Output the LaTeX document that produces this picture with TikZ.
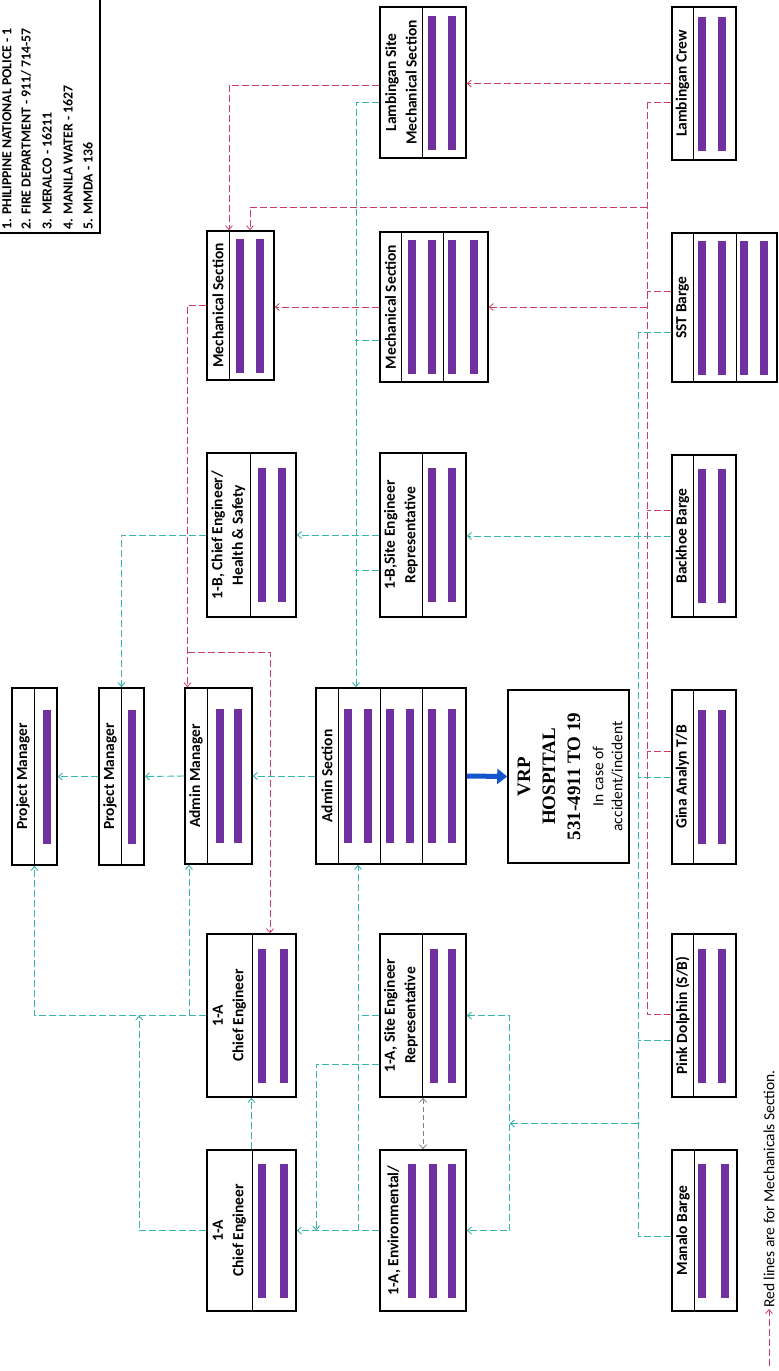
\documentclass[tikz,border=0pt]{standalone}
\usepackage{fontspec}
\setmainfont{Carlito}
\newfontfamily\hospserif{Liberation Serif}
\usepackage{tikz}
\usetikzlibrary{calc,arrows.meta}
\definecolor{redactpurple}{RGB}{112, 48, 160}
\definecolor{mechred}{RGB}{205, 60, 95}
\definecolor{siteteal}{RGB}{55, 180, 172}
\definecolor{hospblue}{RGB}{20, 85, 205}

\newcommand{\titlefont}{\bfseries\fontsize{15.5}{20.5}\selectfont}
% box: name, x1, y1, x2, y2, dividers, bars, title x, title
\newcommand{\staffbox}[9]{%
  \node[unitbox, minimum width={(#4-#2)*1pt}, minimum height={(#5-#3)*1pt}] (#1) at ({(#2+#4)/2},{(#3+#5)/2}) {};
  \foreach \dx in {#6} {\draw[divider] (\dx,#3) -- (\dx,#5);}
  \foreach \bx in {#7} {\fill[redact] ({\bx-4},{(#3+#5)/2-67}) rectangle ({\bx+4},{(#3+#5)/2+67});}
  \node[boxtitle] (#1-title) at (#8,{(#3+#5)/2}) {#9};
}

\begin{document}
\begin{tikzpicture}[x=1pt, y=-1pt, >={Straight Barb[length=4pt,width=7pt]},
    unitbox/.style={draw, line width=1.6pt, fill=white, inner sep=0pt},
    divider/.style={line width=0.8pt},
    redact/.style={fill=redactpurple},
    boxtitle/.style={rotate=90, align=center, inner sep=0pt, font=\titlefont},
    mechline/.style={draw=mechred, dash pattern=on 7pt off 3pt, line width=0.8pt},
    siteline/.style={draw=siteteal, dash pattern=on 7pt off 3pt, line width=0.9pt},
    pairline/.style={draw=gray, dash pattern=on 5pt off 3pt, line width=0.8pt},
    hosparrow/.style={draw=hospblue, line width=5pt, -{Triangle[length=10pt,width=15pt]}}]
    \fill[white] (0,0) rectangle (779,1371);
    \useasboundingbox (0,0) rectangle (779,1371);

    % Hotline list
    \draw[line width=1.6pt] (-10,-10) rectangle (100,233);
    \begin{scope}[every node/.style={rotate=90, anchor=west, inner sep=0pt, font=\bfseries\fontsize{13.8}{21}\selectfont}]
        \node (hot1) at (7,230) {1. PHILIPPINE NATIONAL POLICE - 1};
        \node (hot2) at (26,230) {2. FIRE DEPARTMENT - 911/ 714-57};
        \node (hot3) at (47,230) {3. MERALCO - 16211};
        \node (hot4) at (68,230) {4. MANILA WATER - 1627};
        \node (hot5) at (88,230) {5. MMDA - 136};
    \end{scope}

    % Boxes
    \staffbox{ms1}{207}{231}{274}{380}{229}{240,260}{218}{Mechanical Section}
    \staffbox{lsite}{380}{7}{466}{158}{422}{432,452}{401}{Lambingan Site\\Mechanical Section}
    \staffbox{lcrew}{672}{7}{736}{160}{693}{702,722}{682.5}{Lambingan Crew}
    \staffbox{ms2}{380}{232}{488}{382}{401,443}{412,432,452,474}{390.5}{Mechanical Section}
    \staffbox{sst}{672}{233}{777}{382}{693,736}{702,722,744,764}{682.5}{SST Barge}
    \staffbox{ce1b}{207}{453}{296}{617}{250}{262,282}{228.5}{1-B, Chief Engineer/\\Health \& Safety}
    \staffbox{ser1b}{380}{453}{466}{617}{422}{432,452}{401}{1-B,Site Engineer\\Representative}
    \staffbox{backhoe}{672}{455}{736}{617}{693}{702,722}{682.5}{Backhoe Barge}
    \staffbox{pm1}{12}{688}{57}{865}{34}{46.5}{23}{Project Manager}
    \staffbox{pm2}{99}{688}{144}{865}{121}{132}{110}{Project Manager}
    \staffbox{admmgr}{185}{688}{252}{864}{207}{220,238}{196}{Admin Manager}
    \staffbox{admsec}{316}{688}{466}{864}{338,380,422}{348,368,390,410,432,452}{327}{Admin Section}
    \staffbox{gina}{672}{690}{736}{864}{693}{702,722}{682.5}{Gina Analyn T/B}
    \staffbox{ce1}{207}{934}{296}{1097}{252}{262,284}{229.5}{1-A\\Chief Engineer}
    \staffbox{ser1a}{380}{934}{466}{1097}{422}{434,452}{401}{1-A, Site Engineer\\Representative}
    \staffbox{pink}{672}{934}{736}{1097}{693}{702,722}{682.5}{Pink Dolphin (S/B)}
    \staffbox{ce2}{207}{1150}{296}{1311}{252}{262,284}{229.5}{1-A\\Chief Engineer}
    \staffbox{env}{380}{1150}{466}{1311}{380}{412,433,452}{394}{1-A, Environmental/}
    \staffbox{manalo}{672}{1150}{737}{1311}{694}{702,724.5}{683}{Manalo Barge}

    % Hospital
    \node[unitbox, minimum width=121pt, minimum height=173pt] (hosp) at (568.5,776.5) {};
    \node[rotate=90, align=center, inner sep=0pt, font=\hospserif\bfseries\fontsize{19}{25}\selectfont] (hosptitle) at (549,776.5) {VRP\\HOSPITAL\\531-4911 TO 19};
    \node[rotate=90, align=center, inner sep=0pt, font=\fontsize{15.5}{19}\selectfont] (hospnote) at (608,776.5) {In case of\\accident/incident};
    \draw[hosparrow] (admsec.east) -- (hosp.west);

    % Red lines (mechanical)
    \draw[mechline] ([yshift=-18.5pt]lcrew.west) -- ++(-24,0) coordinate (redtop);
    \draw[mechline] ([yshift=1.5pt]pink.west) -- ++(-24,0) coordinate (redbot);
    \draw[mechline] (redtop) -- (redbot);
    \draw[mechline] ([yshift=16.5pt]sst.west) -- ++(-24,0);
    \draw[mechline] ([yshift=26pt]backhoe.west) -- ++(-24,0);
    \draw[mechline] ([yshift=26pt]gina.west) -- ++(-24,0);
    \draw[mechline,->] (lcrew.west) -- (lcrew.west -| lsite.east);
    \draw[mechline,->] (redtop |- ms2.east) -- (ms2.east);
    \coordinate (rbend) at ($(ms1.north)+(9.5,-23)$);
    \draw[mechline,->] (redtop |- rbend) -- (rbend) -- (rbend |- ms1.north);
    \draw[mechline,->] ([yshift=-2.5pt]lsite.west) -| ([xshift=-11.5pt]ms1.north);
    \draw[mechline,->] (ms2.west) -- (ms2.west -| ms1.east);
    \draw[mechline,->] (ms1.west) -| ([xshift=-31pt]admmgr.north);
    \coordinate (rsplit) at ($(admmgr.north)+(-31,-35)$);
    \draw[mechline,->] (rsplit) -| ([xshift=18.5pt]ce1.north);

    % Teal lines (site)
    \draw[siteline] ([yshift=-24.5pt]sst.west) -- ++(-33,0) coordinate (tealtop);
    \draw[siteline] ([yshift=-5.5pt]manalo.west) -- ++(-33,0) coordinate (tealbot);
    \draw[siteline] (tealtop) -- (tealbot);
    \draw[siteline] (gina.west) -- ++(-33,0);
    \draw[siteline] ([yshift=-24.5pt]pink.west) -- ++(-33,0);
    \draw[siteline,->] (backhoe.west) -- (backhoe.west -| ser1b.east);
    \coordinate (gap) at ($(pink.south)!0.5!(manalo.north)$);
    \coordinate (siteA) at ($(ser1a.east)+(43,0)$);
    \draw[siteline,->] (tealtop |- gap) -- (siteA |- gap);
    \draw[siteline,<->] (ser1a.east) -- (siteA) -- (siteA |- env.east) -- (env.east);
    \draw[pairline,<->] (ser1a.south) -- (env.north);
    \coordinate (adup) at ($(admsec.south)+(-33,0)$);
    \draw[siteline,->] (adup |- env.west) -- (adup);
    \draw[siteline] (ser1a.west) -- (ser1a.west -| adup);
    \coordinate (sadown) at ($(ser1a.west)+(-63,48.5)$);
    \draw[siteline,->] ([yshift=-48.5pt]ser1a.west) -- (sadown) -- (sadown |- env.west);
    \draw[siteline,->] (env.west) -- (ce2.east);
    \draw[siteline,->] (ce2.north) -- (ce1.south);
    \coordinate (cejoin) at ($(ce1.west)+(-67,0)$);
    \draw[siteline,->] (ce2.west) -| (cejoin);
    \draw[siteline,->] (ce1.west) -| (pm1.south);
    \coordinate (amup) at ($(admmgr.south)+(-29.5,0)$);
    \draw[siteline,->] (amup |- ce1.west) -- (amup);
    \draw[siteline,->] (admsec.west) -- (admmgr.east);
    \draw[siteline,->] (admmgr.west) -- (pm2.east);
    \draw[siteline,->] (pm2.west) -- (pm1.east);
    \draw[siteline,->] (ser1b.west) -- (ce1b.east);
    \draw[siteline,->] (ce1b.west) -| (pm2.north);
    \draw[siteline] ([yshift=-35pt]ser1b.west) -- ++(-24,0);
    \coordinate (asdown) at ($(admsec.north)+(-35,0)$);
    \draw[siteline,->] ([yshift=-19.5pt]lsite.west) -| (asdown);
    \draw[siteline] ([yshift=-33pt]ms2.west) -- ++(-24,0);

    % Legend
    \node[rotate=90, anchor=west, inner sep=1pt, font=\fontsize{15.5}{18}\selectfont] (redlegend) at (769,1309) {Red lines are for Mechanicals Section.};
    \coordinate (legtail) at (769,1366);
    \draw[mechline,->] (legtail) -- (redlegend.west);
\end{tikzpicture}
\end{document}
